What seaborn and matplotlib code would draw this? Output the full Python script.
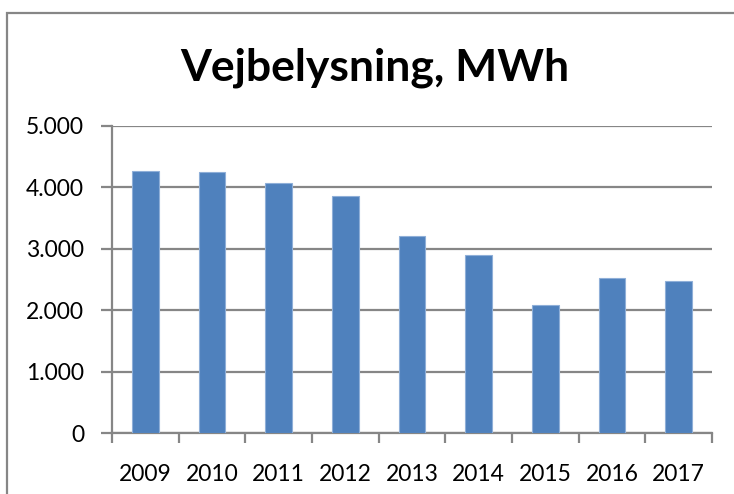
import matplotlib
matplotlib.use("Agg")
import matplotlib.pyplot as plt
import seaborn as sns
import pandas as pd
from matplotlib.ticker import FuncFormatter, FixedLocator
from matplotlib.patches import Rectangle

years = ["2009", "2010", "2011", "2012", "2013", "2014", "2015", "2016", "2017"]
mwh = [4270, 4250, 4070, 3860, 3210, 2900, 2085, 2520, 2480]
yticks = [0, 1000, 2000, 3000, 4000, 5000]
title = "Vejbelysning, MWh"

sns.set_theme(style="white")
plt.rcParams["font.family"] = ["Lato", "DejaVu Sans"]

df = pd.DataFrame({"year": years, "mwh": mwh})

fig = plt.figure(figsize=(7.34, 4.94), dpi=100)
ax = fig.add_axes([112/734, (494-433)/494, 600/734, 307/494])

sns.barplot(data=df, x="year", y="mwh", color="#4F81BD", width=0.4,
            edgecolor="#8FAFD8", linewidth=0.8, ax=ax, zorder=3, saturation=1)

ax.set_ylim(0, 5000)
ax.set_xlim(-0.5, len(years) - 0.5)
ax.set_yticks(yticks)
ax.yaxis.set_major_formatter(FuncFormatter(lambda v, p: "0" if v == 0 else f"{int(v):,}".replace(",", ".")))
ax.grid(axis="y", color="#868686", linewidth=1.6, zorder=0)
ax.set_axisbelow(True)
ax.set_xlabel("")
ax.set_ylabel("")

for s in ["top", "right"]:
    ax.spines[s].set_visible(False)
for s in ["left", "bottom"]:
    ax.spines[s].set_color("#868686")
    ax.spines[s].set_linewidth(1.6)

ax.xaxis.set_minor_locator(FixedLocator([i - 0.5 for i in range(len(years) + 1)]))
ax.tick_params(axis="x", which="major", length=0, pad=22, labelsize=16.5, labelcolor="black")
ax.tick_params(axis="x", which="minor", length=7, width=1.6, color="#868686", direction="out", bottom=True)
ax.tick_params(axis="y", which="major", length=8, width=1.6, color="#868686", direction="out",
               left=True, pad=12, labelsize=16.5, labelcolor="black")

fig.text(0.511, 0.862, title, ha="center", va="center", fontsize=32, fontweight="bold", color="black")

fig.patches.append(Rectangle((7/734, -0.1), 2, 1 - 13/494 + 0.1, transform=fig.transFigure,
                             fill=False, edgecolor="#868686", linewidth=1.6, figure=fig))

fig.savefig("out.png", dpi=100)
